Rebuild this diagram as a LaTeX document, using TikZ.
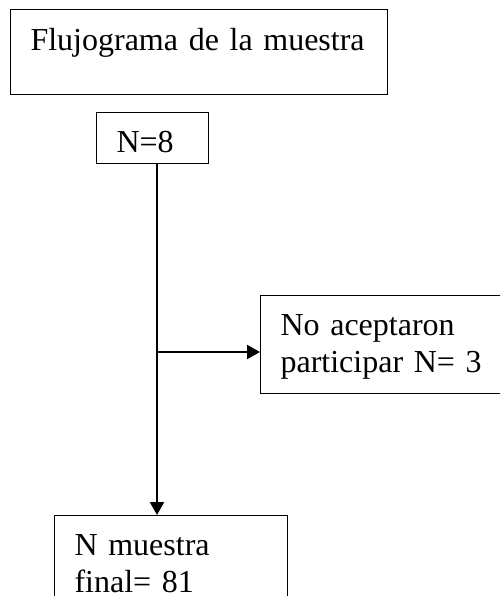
\documentclass[tikz,border=0pt]{standalone}
\usepackage{fontspec}
\setmainfont{Liberation Serif}
\usetikzlibrary{calc, positioning}
\usetikzlibrary{arrows.meta}

\tikzset{
  flowbox/.style={draw, line width=1.1pt, anchor=north west, align=left,
    inner xsep=20pt, inner ysep=0pt, font=\fontsize{32}{37}\selectfont},
  flowline/.style={line width=2.2pt, -{Triangle[length=13pt, width=14pt]}}
}

\begin{document}
\begin{tikzpicture}[x=1pt, y=-1pt]
\useasboundingbox (0,0) rectangle (500,596);
\clip (0,0) rectangle (500,596);

\node[flowbox, text width=337pt, text height=41pt, text depth=44pt] (titulo) at (10,9) {\mbox{Flujograma de la muestra}};
\node[flowbox, text width=72pt, text height=40pt, text depth=11pt] (total) at (96,112) {N=8};
\node[flowbox, text width=240pt, text height=40pt, text depth=58pt] (rechazo) at (260,295) {No aceptaron\\participar N= 3};
\node[flowbox, text width=193pt, text height=40pt, text depth=80pt] (final) at (54,515) {N muestra\\final= 81};

\coordinate (split) at (157,352);

\draw[flowline] (split |- total.south) -- (split |- final.north);
\draw[flowline] (split) -- (split -| rechazo.west);
\end{tikzpicture}
\end{document}
